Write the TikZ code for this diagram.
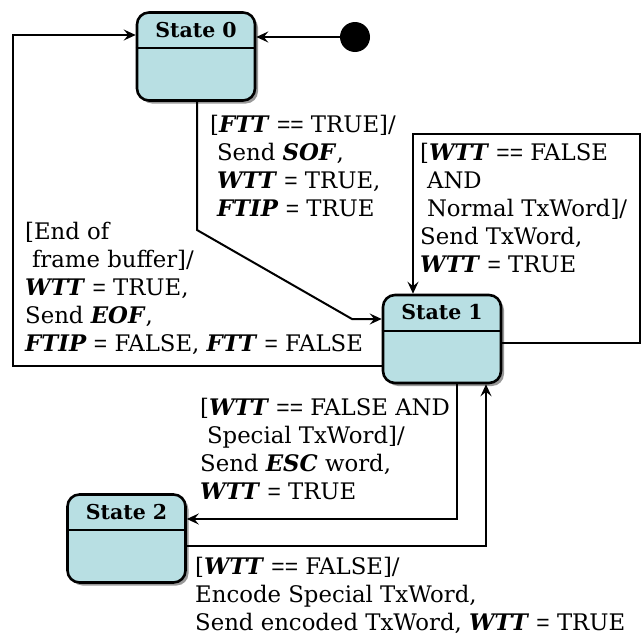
\documentclass[tikz,border=0pt]{standalone}
\usepackage{fontspec}
\setmainfont{DejaVu Serif}
\newfontfamily\eqfont{Liberation Sans}
\usetikzlibrary{arrows.meta,shadows}

\definecolor{statefill}{RGB}{184,223,227}
\newcommand{\kw}[1]{\textbf{\textit{#1}}}
\newcommand{\ind}{\hspace*{0.3em}}
\newcommand{\eq}{{\eqfont =}}
\newcommand{\eqeq}{{\eqfont ==}}

\tikzset{
  statebox/.style={draw, line width=2.6pt, fill=statefill, rounded corners=12pt,
    minimum width=118pt, minimum height=88pt, inner sep=0pt,
    drop shadow={shadow xshift=3pt, shadow yshift=-3pt, fill=black!40, opacity=1}},
  divider/.style={line width=2pt},
  hdr/.style={font=\fontsize{20.5}{24}\selectfont\bfseries, inner sep=0pt},
  arr/.style={line width=2pt, -{Stealth[length=12pt,width=11pt,inset=4.5pt]}},
  lbl/.style={anchor=north west, align=left, inner sep=0pt,
    font=\fontsize{22.8}{28}\selectfont},
}

\begin{document}
\begin{tikzpicture}[x=1pt,y=-1pt]
\useasboundingbox (0,0) rectangle (641,637);

% states
\node[statebox] (s0) at (196,56.5) {};
\node[statebox] (s1) at (442,339) {};
\node[statebox] (s2) at (126.5,538.5) {};
\foreach \s/\t in {s0/State 0,s1/State 1,s2/State 2}{
  \draw[divider] ([yshift=-37pt]\s.north west) -- ([yshift=-37pt]\s.north east);
  \node[hdr] (h\s) at ([yshift=-18.5pt]\s.north) {\t};
}

% initial pseudo-state
\node[circle, fill=black, minimum size=30pt, inner sep=0pt] (init) at (355,37) {};
\draw[arr] (init) -- (init -| s0.east);

% State 1 -> State 0 (outer left loop)
\coordinate (lb) at (13,366);
\coordinate (lt) at (13,35);
\draw[arr] (s1.west |- lb) -- (lb) -- (lt) -- (s0.west |- lt);

% State 0 -> State 1
\coordinate (a1) at (197,230);
\coordinate (a2) at (352,319);
\draw[arr] (s0.south -| a1) -- (a1) -- (a2) -- (a2 -| s1.west);

% State 1 self loop
\coordinate (r1) at (639.5,343);
\coordinate (r2) at (639.5,134);
\coordinate (r3) at (413,134);
\draw[arr] (s1.east |- r1) -- (r1) -- (r2) -- (r3) -- (r3 |- s1.north);

% State 1 -> State 2
\coordinate (b1) at (457,519);
\draw[arr] (b1 |- s1.south) -- (b1) -- (b1 -| s2.east);

% State 2 -> State 1
\coordinate (c1) at (486,546);
\draw[arr] (s2.east |- c1) -- (c1) -- (c1 |- s1.south);

% transition labels
\node[lbl] (la) at (210,115) {[\kw{FTT} \eqeq{} TRUE]/\\
\ind Send \kw{SOF},\\
\ind\kw{WTT} \eq{} TRUE,\\
\ind\kw{FTIP} \eq{} TRUE};

\node[lbl] (lb2) at (420,143) {[\kw{WTT} \eqeq{} FALSE\\
\ind AND\\
\ind Normal TxWord]/\\
Send TxWord,\\
\kw{WTT} \eq{} TRUE};

\node[lbl] (lc) at (25,222) {[End of\\
\ind frame buffer]/\\
\kw{WTT} \eq{} TRUE,\\
Send \kw{EOF},\\
\kw{FTIP} \eq{} FALSE, \kw{FTT} \eq{} FALSE};

\node[lbl] (ld) at (200,398) {[\kw{WTT} \eqeq{} FALSE AND\\
\ind Special TxWord]/\\
Send \kw{ESC} word,\\
\kw{WTT} \eq{} TRUE};

\node[lbl] (le) at (195,557) {[\kw{WTT} \eqeq{} FALSE]/\\
Encode Special TxWord,\\
Send encoded TxWord, \kw{WTT} \eq{} TRUE};
\end{tikzpicture}
\end{document}
